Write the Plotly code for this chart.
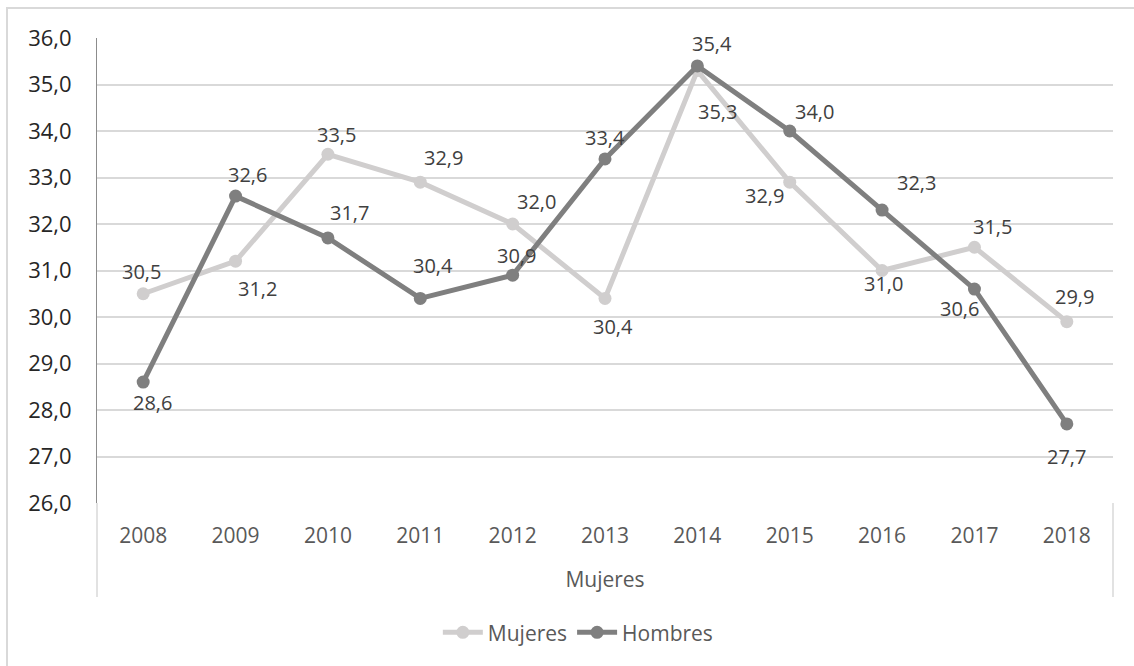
import plotly.graph_objects as go

years = [2008, 2009, 2010, 2011, 2012, 2013, 2014, 2015, 2016, 2017, 2018]
year_labels = [str(y) for y in years]
mujeres = [30.5, 31.2, 33.5, 32.9, 32.0, 30.4, 35.3, 32.9, 31.0, 31.5, 29.9]
hombres = [28.6, 32.6, 31.7, 30.4, 30.9, 33.4, 35.4, 34.0, 32.3, 30.6, 27.7]

# label offsets in pixels (dx, dy screen: down positive)
off_m = [(-2, -22), (22, 27), (9, -20), (23, -25), (24, -23), (8, 28), (20, 41), (-25, 13), (1, 13), (18, -21), (8, -25)]
off_h = [(9, 20), (12, -22), (22, -25), (13, -33), (4, -20), (0, -21), (15, -22), (25, -20), (34, -28), (-15, 19), (0, 33)]

FONT = "Open Sans"
C_M = "#d0cece"
C_H = "#7f7f7f"
LABEL_C = "#404040"

fig = go.Figure()
fig.add_trace(go.Scatter(x=years, y=mujeres, name="Mujeres", mode="lines+markers",
                         line=dict(color=C_M, width=5), marker=dict(size=13, color=C_M)))
fig.add_trace(go.Scatter(x=years, y=hombres, name="Hombres", mode="lines+markers",
                         line=dict(color=C_H, width=5), marker=dict(size=13, color=C_H)))

def fmt(v):
    return f"{v:.1f}".replace(".", ",")

anns = []
for series, offs in ((mujeres, off_m), (hombres, off_h)):
    for yr, v, (dx, dy) in zip(years, series, offs):
        anns.append(dict(x=yr, y=v, xref="x", yref="y", text=fmt(v), showarrow=False,
                         xanchor="center", yanchor="middle", xshift=dx, yshift=-dy,
                         font=dict(family=FONT, size=20, color=LABEL_C)))

shapes = [
    # chart border
    dict(type="rect", xref="paper", yref="paper", x0=-0.0886, x1=1.05, y0=-0.45, y1=1.0645,
         line=dict(color="#d9d9d9", width=2), layer="below"),
    # category box
    dict(type="line", xref="paper", yref="paper", x0=0, x1=0, y0=0, y1=-0.202,
         line=dict(color="#d9d9d9", width=1.5)),
    dict(type="line", xref="paper", yref="paper", x0=1, x1=1, y0=0, y1=-0.202,
         line=dict(color="#d9d9d9", width=1.5)),
]

fig.update_layout(
    width=1134, height=666,
    margin=dict(l=97, r=21, t=38, b=163),
    paper_bgcolor="white", plot_bgcolor="white",
    separators=",.",
    font=dict(family=FONT, size=20, color="#595959"),
    showlegend=True,
    legend=dict(orientation="h", xref="container", yref="container", x=0.51, y=0.05,
                xanchor="center", yanchor="middle", font=dict(family=FONT, size=21, color="#595959"),
                itemwidth=40),
    annotations=anns,
    shapes=shapes,
    xaxis=dict(type="linear", range=[years[0] - 0.5, years[-1] + 0.5], showgrid=False, zeroline=False,
               showline=False, tickmode="array", tickvals=years, ticktext=year_labels,
               ticks="", ticklabelstandoff=18,
               tickfont=dict(family=FONT, size=21, color="#595959"),
               title=dict(text="Mujeres", standoff=24, font=dict(family=FONT, size=21, color="#595959"))),
    yaxis=dict(range=[26, 36], dtick=1, tickformat=".1f", showgrid=True, gridcolor="#d9d9d9", gridwidth=2,
               zeroline=False, showline=True, linecolor="#8c8c8c", linewidth=1,
               ticks="", ticklabelstandoff=20,
               tickfont=dict(family=FONT, size=22, color="#262626")),
)

fig.write_html("out.html")
